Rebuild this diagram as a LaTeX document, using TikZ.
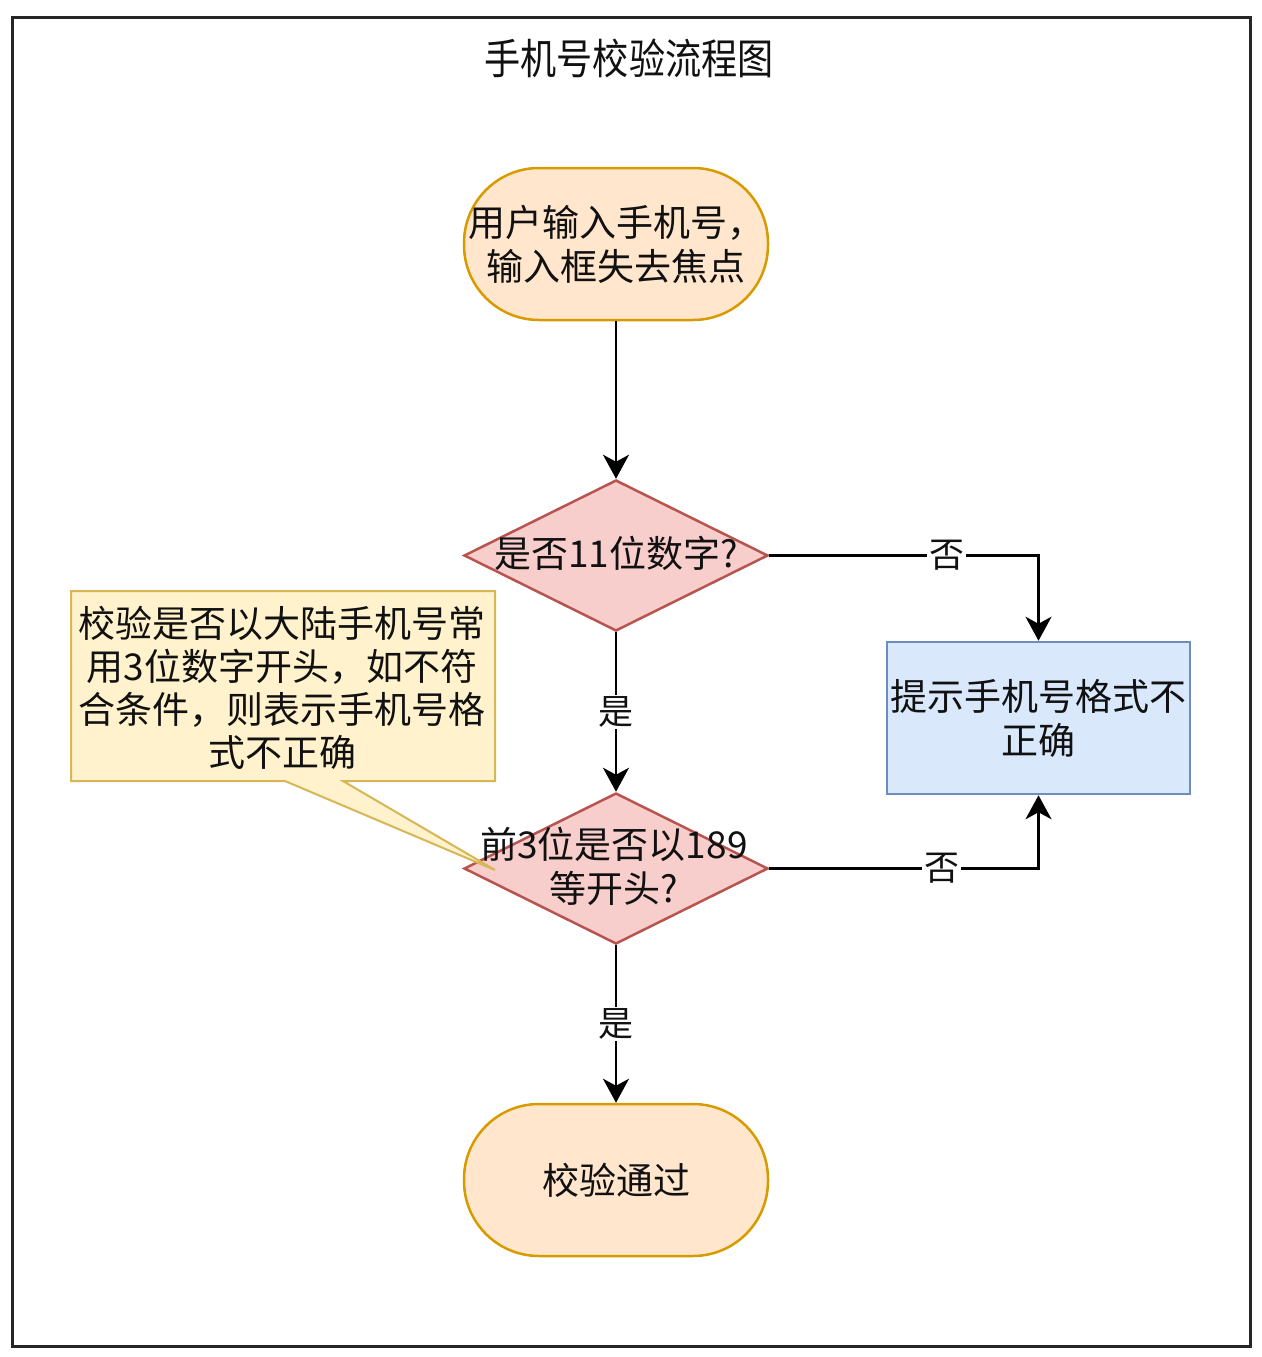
\documentclass[tikz,border=0pt]{standalone}
\usepackage{fontspec}
\setmainfont{Noto Sans CJK SC}
\newfontfamily\titlefont{Noto Sans CJK SC}[FakeStretch=0.86]
\usetikzlibrary{shapes.geometric,arrows.meta}
\definecolor{termfill}{HTML}{FFE6CC}
\definecolor{termline}{HTML}{D79B00}
\definecolor{decfill}{HTML}{F8CECC}
\definecolor{decline}{HTML}{B85450}
\definecolor{boxfill}{HTML}{DAE8FC}
\definecolor{boxline}{HTML}{6C8EBF}
\definecolor{notefill}{HTML}{FFF2CC}
\definecolor{noteline}{HTML}{D6B656}
\definecolor{txt}{HTML}{111111}
\begin{document}
\begin{tikzpicture}[x=1pt,y=-1pt,
  every node/.style={text=txt, font=\fontsize{37}{44}\selectfont},
  term/.style={draw=termline, fill=termfill, line width=2.5pt, rectangle, rounded corners=75pt,
    minimum width=304pt, minimum height=152pt, inner sep=0pt, align=center},
  decshape/.style={draw=decline, fill=decfill, line width=2.5pt, diamond, aspect=2,
    minimum width=304pt, minimum height=151pt, inner sep=0pt},
  dectext/.style={align=center, inner sep=0pt},
  msgbox/.style={draw=boxline, fill=boxfill, line width=2.5pt, rectangle,
    minimum width=303pt, minimum height=152pt, inner sep=0pt, align=center},
  arr/.style={draw=black, line width=2.5pt, -{Stealth[length=24pt,width=26pt,inset=7pt]}},
  lbl/.style={fill=white, inner sep=2pt, font=\fontsize{35}{40}\selectfont},
]
\useasboundingbox (0,0) rectangle (1261,1357);
\fill[white] (0,0) rectangle (1261,1357);
\draw[line width=3pt, black!85] (12,17) rectangle (1250,1346);

\node[font=\titlefont\fontsize{42}{50}\selectfont] (title) at (629,58) {手机号校验流程图};

\node[term] (start) at (616,244) {用户输入手机号，\\输入框失去焦点};
\node[decshape] (d1) at (616,555.5) {};
\node[dectext] (d1t) at (616,553) {是否11位数字?};
\node[msgbox] (msg) at (1038.5,718) {提示手机号格式不\\正确};
\node[decshape] (d2) at (616,868.5) {};
\node[term] (end) at (616,1180) {校验通过};

% callout
\draw[draw=noteline, fill=notefill, line width=2pt, line join=miter]
  (71,591) -- (495,591) -- (495,781) -- (343,781) -- (495,870) -- (285,781) -- (71,781) -- cycle;
\node[align=center, inner sep=0pt, font=\fontsize{37}{43}\selectfont] (note) at (282,688)
  {校验是否以大陆手机号常\\用3位数字开头，如不符\\合条件，则表示手机号格\\式不正确};

\node[dectext] (d2t) at (614,866) {前3位是否以189\\等开头?};

\draw[arr] (start.south) -- (d1.north);
\draw[arr] (d1.east) -| node[lbl, pos=0.33] (no1) {否} (msg.north);
\draw[arr] (d1.south) -- node[lbl, pos=0.5] (yes1) {是} (d2.north);
\draw[arr] (d2.east) -| node[lbl, pos=0.32] (no2) {否} (msg.south);
\draw[arr] (d2.south) -- node[lbl, pos=0.5] (yes2) {是} (end.north);
\end{tikzpicture}
\end{document}
